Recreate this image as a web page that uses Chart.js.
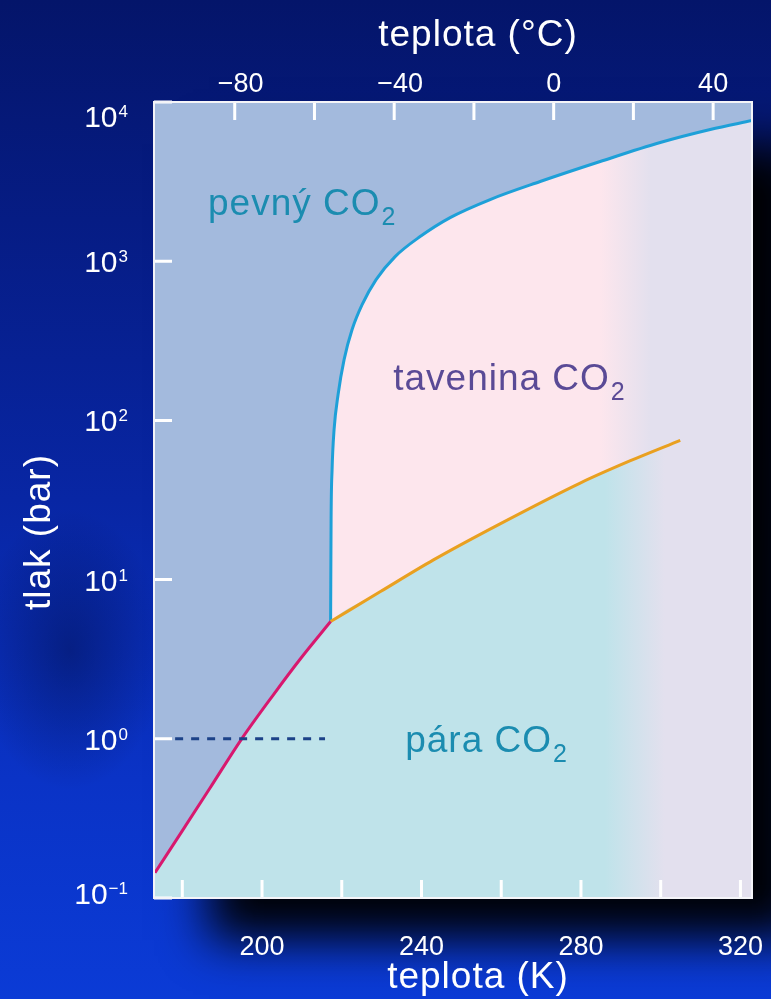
<!DOCTYPE html>
<html>
<head>
<meta charset="utf-8">
<script src="https://cdn.jsdelivr.net/npm/chart.js@4/dist/chart.umd.min.js"></script>
<style>
  html, body { margin: 0; padding: 0; }
  #wrap {
    position: relative; width: 771px; height: 999px; overflow: hidden;
    background:
      radial-gradient(ellipse 95px 140px at 70px 650px, rgba(0,8,50,0.38), rgba(0,8,50,0) 100%),
      linear-gradient(to bottom, #04156a 0%, #061c84 22%, #0826a4 50%, #0a33c6 78%, #0b3bd6 100%);
  }
  canvas { display: block; }
</style>
</head>
<body>
<div id="wrap"><canvas id="c" width="771" height="999"></canvas></div>
<script>
// ---- data ----
// temperature in K, pressure in bar
const sublimT = [173.15, 180.68, 186.95, 194.9, 202.84, 209.54, 217.2];
const sublimP = [0.144, 0.281, 0.491, 1.0, 1.89, 3.16, 5.45];

const meltT = [217.2, 217.32, 217.57, 218.07, 219.07, 220.58, 222.59, 225.1, 228.61, 233.38, 239.65, 247.18, 257.22, 269.76, 284.82, 299.88, 312.42, 322.9];
const meltP = [5.45, 23.8, 49.0, 87.4, 145, 241, 372, 533, 766, 1069, 1428, 1879, 2440, 3165, 4227, 5565, 6718, 7650];

const vapT = [217.2, 229.6, 243.0, 259.7, 279.8, 292.4, 304.9];
const vapP = [5.45, 8.38, 13.3, 22.4, 40.4, 55.8, 74.9];

const oneBarT = [178.2, 215.8];
const oneBarP = [1, 1];

// axes
const xMinK = 172.9, xMaxK = 322.9;
const yMin = 0.1, yMax = 10000;
const bottomTicksK = [180, 200, 220, 240, 260, 280, 300, 320];
const bottomLabelsK = [200, 240, 280, 320];
const topTicksC = [-80, -60, -40, -20, 0, 20, 40];
const topLabelsC = [-80, -40, 0, 40];
const yTickExp = [-1, 0, 1, 2, 3, 4];

// region labels: [text, T (K), P (bar), colour]
const regionLabels = [
  ['pevný CO', 186.45, 1960, '#1b8cb0'],
  ['tavenina CO', 232.9, 156, '#5a4a96'],
  ['pára CO', 235.9, 0.83, '#1b8cb0']
];

// ---- styling ----
const SOLID = '#a3badd';
const PINK = '#fde6ed';
const CYAN = '#bfe3ea';
const LAV = '#e3e0ee';
const FONT = '"Liberation Sans", Arial, sans-serif';

const toXY = (T, P) => T.map((t, i) => ({ x: t, y: P[i] }));

function hGrad(chart, c1, t1, t2) {
  const a = chart.chartArea;
  if (!a) return c1;
  const sx = chart.scales.x;
  const g = chart.ctx.createLinearGradient(sx.getPixelForValue(t1), 0, sx.getPixelForValue(t2), 0);
  g.addColorStop(0, c1);
  g.addColorStop(1, LAV);
  return g;
}

function spaced(ctx, px) { if ('letterSpacing' in ctx) ctx.letterSpacing = px + 'px'; }

const decor = {
  id: 'decor',
  beforeDraw(chart) {
    const { ctx, chartArea: a } = chart;
    ctx.save();
    ctx.shadowColor = 'rgba(0,0,0,0.97)';
    ctx.shadowBlur = 45;
    ctx.shadowOffsetX = 55;
    ctx.shadowOffsetY = 42;
    ctx.fillStyle = SOLID;
    ctx.fillRect(a.left, a.top, a.right - a.left, a.bottom - a.top);
    ctx.restore();
  },
  afterDraw(chart) {
    const { ctx, chartArea: a } = chart;
    const sx = chart.scales.x, sy = chart.scales.y, st = chart.scales.xTop;
    ctx.save();
    // region labels
    regionLabels.forEach(([txt, T, P, col]) => {
      const px = sx.getPixelForValue(T), py = sy.getPixelForValue(P);
      ctx.fillStyle = col;
      ctx.textAlign = 'left';
      ctx.textBaseline = 'alphabetic';
      ctx.font = '37px ' + FONT;
      spaced(ctx, 1);
      ctx.fillText(txt, px, py);
      const w = ctx.measureText(txt).width;
      ctx.font = '25px ' + FONT;
      ctx.fillText('2', px + w + 1, py + 10);
    });
    spaced(ctx, 0);
    // inward ticks
    ctx.strokeStyle = '#ffffff';
    ctx.lineWidth = 3;
    ctx.lineCap = 'butt';
    const L = 18;
    ctx.beginPath();
    bottomTicksK.forEach(t => { const x = sx.getPixelForValue(t); ctx.moveTo(x, a.bottom); ctx.lineTo(x, a.bottom - L); });
    topTicksC.forEach(t => { const x = st.getPixelForValue(t); ctx.moveTo(x, a.top); ctx.lineTo(x, a.top + L); });
    yTickExp.forEach(e => { const y = sy.getPixelForValue(Math.pow(10, e)); ctx.moveTo(a.left, y); ctx.lineTo(a.left + L, y); });
    ctx.stroke();
    // frame
    ctx.lineWidth = 2;
    ctx.strokeStyle = '#f4f4f8';
    ctx.strokeRect(a.left, a.top, a.right - a.left, a.bottom - a.top);
    // tick labels
    ctx.fillStyle = '#ffffff';
    ctx.font = '27px ' + FONT;
    ctx.textAlign = 'center';
    ctx.textBaseline = 'alphabetic';
    bottomLabelsK.forEach(t => ctx.fillText(String(t), sx.getPixelForValue(t), a.bottom + 57));
    topLabelsC.forEach(t => ctx.fillText(t < 0 ? '\u2212' + Math.abs(t) : String(t), st.getPixelForValue(t) + (t < 0 ? 6 : 0), a.top - 10));
    // y labels 10^n
    yTickExp.forEach(e => {
      let y = sy.getPixelForValue(Math.pow(10, e));
      y = Math.min(Math.max(y, a.top + 14), a.bottom - 5);
      const ex = e < 0 ? '\u2212' + Math.abs(e) : String(e);
      ctx.font = '17px ' + FONT;
      const ew = ctx.measureText(ex).width;
      const right = 128;
      ctx.textAlign = 'right';
      ctx.fillText(ex, right, y + 1);
      ctx.font = '30px ' + FONT;
      ctx.fillText('10', right - ew - 1, y + 11);
    });
    // axis titles
    ctx.textAlign = 'center';
    ctx.font = '37px ' + FONT;
    spaced(ctx, 1);
    ctx.fillText('teplota (°C)', 478, 46);
    ctx.fillText('teplota (K)', 478, 988);
    ctx.save();
    ctx.translate(50, 532);
    ctx.rotate(-Math.PI / 2);
    ctx.fillText('tlak (bar)', 0, 0);
    ctx.restore();
    ctx.restore();
  }
};

const lineCommon = { pointRadius: 0, borderWidth: 3, cubicInterpolationMode: 'monotone', fill: false };

new Chart(document.getElementById('c'), {
  type: 'line',
  data: {
    datasets: [
      { label: '1 bar', data: toXY(oneBarT, oneBarP), borderColor: '#1c4288', borderDash: [8, 8], fill: false, pointRadius: 0, borderWidth: 3 },
      { label: 'sublimace', data: toXY(sublimT, sublimP), borderColor: '#d8186e', ...lineCommon },
      { label: 'var', data: toXY(vapT, vapP), borderColor: '#e9a020', ...lineCommon },
      // vapour region: below sublimation + vaporisation curves
      { label: 'pára', data: toXY(sublimT.concat(vapT.slice(1)), sublimP.concat(vapP.slice(1))),
        borderWidth: 0, borderColor: 'rgba(0,0,0,0)', pointRadius: 0, cubicInterpolationMode: 'monotone',
        fill: 'start', backgroundColor: (c) => hGrad(c.chart, CYAN, 286, 301) },
      // melting curve, filled below as liquid region
      { label: 'tání', data: toXY(meltT, meltP), borderColor: '#1ea0d8', pointRadius: 0, borderWidth: 3,
        cubicInterpolationMode: 'monotone', fill: 'start',
        backgroundColor: (c) => hGrad(c.chart, PINK, 284.8, 297.4) }
    ]
  },
  options: {
    responsive: false,
    animation: false,
    layout: { padding: { left: 154, top: 102, right: 19, bottom: 101 } },
    scales: {
      x: { type: 'linear', min: xMinK, max: xMaxK, display: false },
      xTop: { type: 'linear', position: 'top', min: xMinK - 273.15, max: xMaxK - 273.15, display: false },
      y: { type: 'logarithmic', min: yMin, max: yMax, display: false }
    },
    plugins: {
      legend: { display: false },
      tooltip: { enabled: false },
      filler: { drawTime: 'beforeDatasetsDraw' }
    }
  },
  plugins: [decor]
});
</script>
</body>
</html>
